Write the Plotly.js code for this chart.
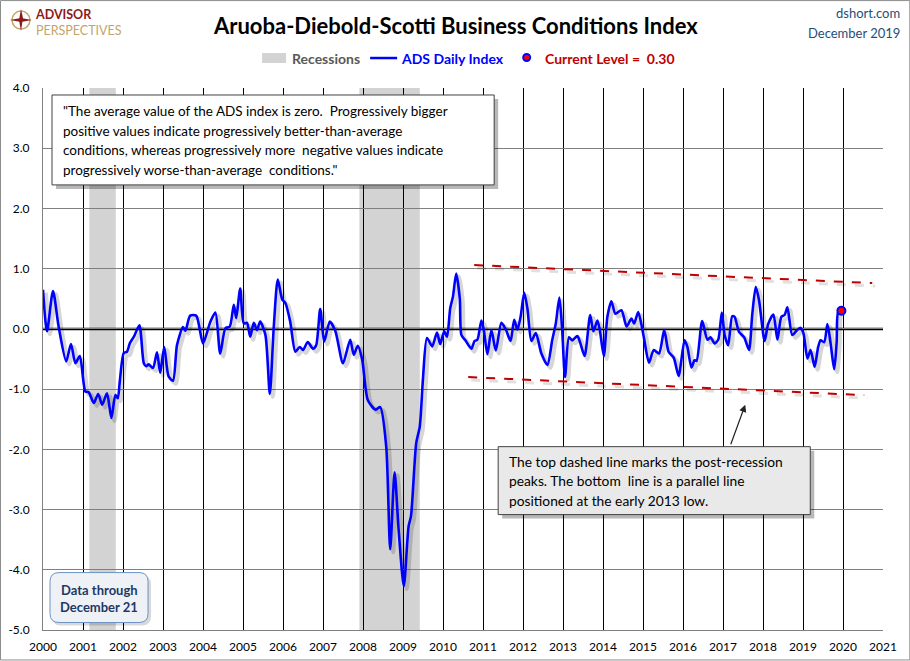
<!DOCTYPE html>
<html>
<head>
<meta charset="utf-8">
<script src="https://cdn.plot.ly/plotly-3.0.1.min.js"></script>
<style>
  html, body { margin: 0; padding: 0; background: #fff; }
  #chart { width: 910px; height: 661px; }
</style>
</head>
<body>
<div id="chart"></div>
<script>
// ADS daily index (decimal years)
const adsDates = [
  2000.0, 2000.1, 2000.25, 2000.39, 2000.58, 2000.7, 2000.81, 2000.92,
  2001.06, 2001.14, 2001.27, 2001.38, 2001.48, 2001.6, 2001.71, 2001.81, 2001.87, 2001.92,
  2002.02, 2002.1, 2002.17, 2002.28, 2002.41, 2002.52, 2002.58, 2002.64, 2002.75, 2002.85, 2002.93,
  2003.03, 2003.14, 2003.25, 2003.35, 2003.5, 2003.56, 2003.68, 2003.83,
  2004.0, 2004.18, 2004.31, 2004.43, 2004.56, 2004.67, 2004.77, 2004.83, 2004.93,
  2005.02, 2005.1, 2005.18, 2005.27, 2005.35, 2005.43, 2005.56, 2005.67, 2005.77, 2005.87, 2005.98,
  2006.06, 2006.18, 2006.31, 2006.42, 2006.5, 2006.62, 2006.75, 2006.83, 2006.93,
  2007.03, 2007.17, 2007.31, 2007.5, 2007.68, 2007.77, 2007.87, 2007.98,
  2008.12, 2008.31, 2008.43, 2008.58, 2008.68, 2008.79, 2008.89,
  2009.02, 2009.14, 2009.2, 2009.33, 2009.42, 2009.5, 2009.6, 2009.73, 2009.85, 2009.93,
  2010.03, 2010.1, 2010.18, 2010.25, 2010.33, 2010.42, 2010.46, 2010.56, 2010.71, 2010.79, 2010.86, 2010.96,
  2011.02, 2011.11, 2011.21, 2011.32, 2011.46, 2011.57, 2011.69, 2011.78, 2011.86, 2011.94,
  2012.03, 2012.11, 2012.21, 2012.32, 2012.46, 2012.61, 2012.73, 2012.82, 2012.91, 2012.98,
  2013.05, 2013.15, 2013.23, 2013.36, 2013.43, 2013.54, 2013.68, 2013.76, 2013.86, 2013.92,
  2014.02, 2014.11, 2014.21, 2014.31, 2014.46, 2014.59, 2014.71, 2014.78, 2014.88,
  2015.01, 2015.15, 2015.27, 2015.4, 2015.53, 2015.64, 2015.77, 2015.89,
  2016.04, 2016.11, 2016.21, 2016.29, 2016.34, 2016.48, 2016.61, 2016.69, 2016.79, 2016.88, 2016.97,
  2017.04, 2017.13, 2017.23, 2017.29, 2017.4, 2017.53, 2017.65, 2017.73, 2017.82, 2017.9,
  2018.04, 2018.13, 2018.26, 2018.36, 2018.46, 2018.54, 2018.61, 2018.73, 2018.84, 2018.93,
  2019.01, 2019.11, 2019.19, 2019.29, 2019.38, 2019.44, 2019.53, 2019.61, 2019.69, 2019.78, 2019.84, 2019.88, 2019.96
];
const adsValues = [
  0.65, -0.04, 0.63, 0.04, -0.54, -0.25, -0.57, -0.45,
  -1.04, -1.05, -1.23, -1.08, -1.26, -1.07, -1.48, -1.10, -1.15, -0.87,
  -0.40, -0.38, -0.24, -0.12, 0.06, -0.57, -0.62, -0.59, -0.65, -0.39, -0.73,
  -0.30, -0.79, -0.86, -0.27, 0.03, -0.03, 0.22, 0.22,
  -0.24, 0.11, 0.27, -0.41, 0.01, 0.04, 0.40, 0.18, 0.67,
  0.09, 0.10, -0.13, 0.10, -0.02, 0.12, -0.10, -1.08, 0.04, 0.82, 0.49,
  0.43, 0.12, -0.38, -0.30, -0.35, -0.22, -0.33, -0.27, 0.33,
  -0.21, 0.12, -0.04, -0.57, -0.18, -0.43, -0.28, -0.51,
  -1.18, -1.34, -1.30, -1.95, -3.66, -2.38, -3.33,
  -4.27, -3.28, -3.11, -1.90, -1.62, -0.82, -0.15, -0.29, -0.06, -0.25,
  -0.04, -0.13, 0.34, 0.54, 0.92, 0.50, -0.10, -0.19, -0.33, -0.20, -0.18, 0.14,
  -0.02, -0.42, -0.02, -0.36, 0.10, -0.01, -0.20, 0.15, -0.01, 0.20,
  0.60, 0.34, -0.20, -0.07, -0.41, -0.60, -0.19, 0.09, 0.52, -0.02,
  -0.80, -0.14, -0.19, -0.12, -0.23, -0.45, 0.23, -0.04, 0.14, -0.02,
  -0.45, 0.20, 0.46, 0.25, 0.31, 0.04, 0.17, 0.09, 0.28,
  -0.10, -0.56, -0.35, -0.41, -0.02, -0.38, -0.48, -0.78,
  -0.19, -0.30, -0.64, -0.52, -0.53, 0.13, -0.18, -0.14, -0.24, -0.18, 0.27,
  -0.10, -0.27, 0.21, 0.20, -0.05, -0.14, -0.35, 0.23, 0.70, 0.48,
  -0.20, 0.08, 0.24, -0.18, 0.20, 0.23, 0.36, -0.10, -0.03, 0.02,
  -0.07, -0.49, -0.35, -0.63, -0.30, -0.19, -0.22, 0.08, -0.24, -0.67, -0.24, 0.28, 0.30
];

// recessions (NBER), start / end in decimal years
const recStart = [2001.16, 2007.91];
const recEnd = [2001.82, 2009.42];

// trend channel lines
const topLineX = [2010.78, 2020.73];
const topLineY = [1.06, 0.76];
const lowLineX = [2010.63, 2020.53];
const lowLineY = [-0.80, -1.10];

// axis ticks
const yearTicks = [];
for (let y = 2000; y <= 2021; y++) yearTicks.push(y);
const levelTicks = [-5, -4, -3, -2, -1, 0, 1, 2, 3, 4];

// text blocks
const quoteLines = [
  '"The average value of the ADS index is zero.  Progressively bigger',
  'positive values indicate progressively better-than-average',
  'conditions, whereas progressively more  negative values indicate',
  'progressively worse-than-average  conditions."'
];
const noteLines = [
  'The top dashed line marks the post-recession',
  'peaks. The bottom  line is a parallel line',
  'positioned at the early 2013 low.'
];

const curDate = adsDates[adsDates.length - 1];
const curVal = adsValues[adsValues.length - 1];

// plot area in pixels, used to place the decorations
const L = 43, R = 882.7, T = 88, B = 630.5;
const px = x => (x - L) / (R - L);
const py = y => (B - y) / (B - T);

const FONT = 'Lato, "Open Sans", sans-serif';

// shadow copies sit on an axis pair shifted by a few pixels
const sx = 3 / 40, sy = 3 / 60.3;

const traces = [
  {
    x: adsDates, y: adsValues, xaxis: 'x2', yaxis: 'y2',
    type: 'scatter', mode: 'lines', hoverinfo: 'skip',
    line: { color: 'rgba(0,0,0,0.16)', width: 4, shape: 'spline', smoothing: 0.7 }
  },
  {
    x: topLineX, y: topLineY, xaxis: 'x2', yaxis: 'y2',
    type: 'scatter', mode: 'lines', hoverinfo: 'skip',
    line: { color: 'rgba(0,0,0,0.12)', width: 3, dash: 'dash' }
  },
  {
    x: lowLineX, y: lowLineY, xaxis: 'x2', yaxis: 'y2',
    type: 'scatter', mode: 'lines', hoverinfo: 'skip',
    line: { color: 'rgba(0,0,0,0.12)', width: 3, dash: 'dash' }
  },
  {
    x: topLineX, y: topLineY, xaxis: 'x3', yaxis: 'y3',
    type: 'scatter', mode: 'lines', name: 'top',
    line: { color: '#c00000', width: 2, dash: 'dash' }
  },
  {
    x: lowLineX, y: lowLineY, xaxis: 'x3', yaxis: 'y3',
    type: 'scatter', mode: 'lines', name: 'bottom',
    line: { color: '#c00000', width: 2, dash: 'dash' }
  },
  {
    x: adsDates, y: adsValues, xaxis: 'x3', yaxis: 'y3',
    type: 'scatter', mode: 'lines', name: 'ADS Daily Index',
    line: { color: '#0000ff', width: 2.6, shape: 'spline', smoothing: 0.7 }
  },
  {
    x: [curDate], y: [curVal], xaxis: 'x3', yaxis: 'y3',
    type: 'scatter', mode: 'markers', name: 'Current Level',
    marker: { size: 8, color: '#ff0000', line: { color: '#0000ff', width: 2 } }
  }
];

const shapes = [];
// whole-image frame
shapes.push({ type: 'rect', xref: 'paper', yref: 'paper', x0: px(0.5), x1: px(909.5), y0: py(660.5), y1: py(0.5),
  line: { color: '#8c8c8c', width: 1 }, fillcolor: 'rgba(0,0,0,0)', layer: 'below' });
// recession bands
recStart.forEach((s, i) => {
  shapes.push({ type: 'rect', xref: 'x', yref: 'paper', x0: s, x1: recEnd[i], y0: 0, y1: 1,
    fillcolor: 'rgba(165,165,165,0.49)', line: { width: 0 }, layer: 'between' });
});
// zero line
shapes.push({ type: 'line', xref: 'paper', yref: 'y', x0: 0, x1: 1, y0: 0, y1: 0,
  line: { color: '#000', width: 2.5 }, layer: 'between' });

// quote box with shadow
shapes.push({ type: 'rect', xref: 'paper', yref: 'paper', x0: px(56), x1: px(498), y0: py(189), y1: py(99),
  fillcolor: 'rgba(0,0,0,0.28)', line: { width: 0 } });
shapes.push({ type: 'rect', xref: 'paper', yref: 'paper', x0: px(52), x1: px(494), y0: py(185), y1: py(95),
  fillcolor: '#ffffff', line: { color: '#404040', width: 1 } });
// note box with shadow
shapes.push({ type: 'rect', xref: 'paper', yref: 'paper', x0: px(502), x1: px(814), y0: py(519), y1: py(451),
  fillcolor: 'rgba(0,0,0,0.28)', line: { width: 0 } });
shapes.push({ type: 'rect', xref: 'paper', yref: 'paper', x0: px(498), x1: px(810), y0: py(515), y1: py(447),
  fillcolor: '#e9e9e9', line: { color: '#404040', width: 1 } });

// rounded "Data through" box
function roundRect(x0, y0, x1, y1, r) {
  const X = v => px(v), Y = v => py(v);
  return `M ${X(x0 + r)},${Y(y0)} L ${X(x1 - r)},${Y(y0)} Q ${X(x1)},${Y(y0)} ${X(x1)},${Y(y0 + r)} ` +
    `L ${X(x1)},${Y(y1 - r)} Q ${X(x1)},${Y(y1)} ${X(x1 - r)},${Y(y1)} ` +
    `L ${X(x0 + r)},${Y(y1)} Q ${X(x0)},${Y(y1)} ${X(x0)},${Y(y1 - r)} ` +
    `L ${X(x0)},${Y(y0 + r)} Q ${X(x0)},${Y(y0)} ${X(x0 + r)},${Y(y0)} Z`;
}
shapes.push({ type: 'path', xref: 'paper', yref: 'paper', path: roundRect(52, 576, 151, 626, 9),
  fillcolor: 'rgba(0,0,0,0.15)', line: { width: 0 } });
shapes.push({ type: 'path', xref: 'paper', yref: 'paper', path: roundRect(50, 573, 148, 623, 9),
  fillcolor: '#eef1f6', line: { color: '#6f93c4', width: 1 } });

// legend symbols
shapes.push({ type: 'rect', xref: 'paper', yref: 'paper', x0: px(262), x1: px(286), y0: py(63), y1: py(53),
  fillcolor: '#d3d3d3', line: { width: 0 } });
shapes.push({ type: 'line', xref: 'paper', yref: 'paper', x0: px(370), x1: px(397), y0: py(58), y1: py(58),
  line: { color: '#0000ff', width: 2.5 } });
shapes.push({ type: 'circle', xref: 'paper', yref: 'paper', x0: px(523), x1: px(530), y0: py(61), y1: py(54),
  fillcolor: '#ff0000', line: { color: '#0000ff', width: 2 } });

// logo mark
shapes.push({ type: 'circle', xref: 'paper', yref: 'paper', x0: px(12), x1: px(30), y0: py(29), y1: py(11),
  fillcolor: 'rgba(0,0,0,0)', line: { color: '#c4a46a', width: 1.5 } });
shapes.push({ type: 'path', xref: 'paper', yref: 'paper',
  path: `M ${px(21)},${py(9)} L ${px(23)},${py(18)} L ${px(21)},${py(31)} L ${px(19)},${py(20)} Z`,
  fillcolor: '#8b1a1a', line: { width: 0 } });
shapes.push({ type: 'path', xref: 'paper', yref: 'paper',
  path: `M ${px(10)},${py(20)} L ${px(21)},${py(18)} L ${px(32)},${py(20)} L ${px(21)},${py(22)} Z`,
  fillcolor: '#8b1a1a', line: { width: 0 } });

const ann = (x, y, text, opts) => Object.assign({ xref: 'paper', yref: 'paper', x: px(x), y: py(y),
  xanchor: 'center', yanchor: 'middle',
  text: text, showarrow: false, font: { family: FONT, size: 13, color: '#000' } }, opts || {});

const annotations = [
  ann(455, 25, '<b>Aruoba-Diebold-Scotti Business Conditions Index</b>',
    { font: { family: FONT, size: 22, color: '#000' } }),
  ann(33, 22, '<b><span style="color:#8b1a1a">ADVISOR</span></b><br>' +
    '<span style="color:#c4a46a">PERSPECTIVES</span>',
    { xanchor: 'left', align: 'left', font: { family: FONT, size: 12.5, color: '#c4a46a' } }),
  ann(902, 13, 'dshort.com', { xanchor: 'right', font: { family: FONT, size: 13, color: '#1f4e79' } }),
  ann(902, 33, 'December 2019', { xanchor: 'right', font: { family: FONT, size: 13, color: '#1f4e79' } }),
  ann(290, 58, '<b>Recessions</b>', { xanchor: 'left', font: { family: FONT, size: 14, color: '#595959' } }),
  ann(399, 58, '<b>ADS Daily Index</b>', { xanchor: 'left', font: { family: FONT, size: 14, color: '#0000ff' } }),
  ann(543, 58, '<b>Current Level =  ' + curVal.toFixed(2) + '</b>',
    { xanchor: 'left', font: { family: FONT, size: 14, color: '#c00000' } }),
  ann(99, 590, '<b>Data through</b>', { font: { family: FONT, size: 13, color: '#1f3864' } }),
  ann(99, 607, '<b>December 21</b>', { font: { family: FONT, size: 13, color: '#1f3864' } }),
  // arrow from the note to the lower line
  { xref: 'paper', yref: 'paper', x: px(745), y: py(405), ax: -15, ay: 41, axref: 'pixel', ayref: 'pixel',
    text: '', showarrow: true, arrowhead: 2, arrowsize: 1.2, arrowwidth: 1.2, arrowcolor: '#222' }
];
quoteLines.forEach((t, i) => {
  annotations.push(ann(61, 111 + i * 19.6, t, { xanchor: 'left', font: { family: FONT, size: 13.5, color: '#000' } }));
});
noteLines.forEach((t, i) => {
  annotations.push(ann(507, 462 + i * 19.2, t, { xanchor: 'left', font: { family: FONT, size: 13.8, color: '#000' } }));
});

const layout = {
  width: 910, height: 661,
  margin: { l: L, r: 910 - R, t: T, b: 661 - B, pad: 0 },
  paper_bgcolor: '#ffffff', plot_bgcolor: '#ffffff',
  showlegend: false,
  font: { family: FONT, size: 12, color: '#000' },
  xaxis: {
    range: [2000, 2021], tickmode: 'array', tickvals: yearTicks, ticktext: yearTicks.map(String),
    showgrid: true, gridcolor: '#000', gridwidth: 1, zeroline: false,
    showline: true, linecolor: '#808080', linewidth: 1, ticks: '', ticklabelstandoff: 6,
    tickfont: { family: FONT, size: 12, color: '#000' }, fixedrange: true
  },
  yaxis: {
    range: [-5, 4], tickmode: 'array', tickvals: levelTicks, ticktext: levelTicks.map(v => v.toFixed(1)),
    showgrid: true, gridcolor: '#808080', gridwidth: 1, zeroline: false,
    showline: true, linecolor: '#808080', linewidth: 1, ticks: '', ticklabelstandoff: 10,
    tickfont: { family: FONT, size: 12, color: '#000' }, fixedrange: true
  },
  xaxis2: { overlaying: 'x', range: [2000 - sx, 2021 - sx], visible: false, fixedrange: true },
  yaxis2: { overlaying: 'y', range: [-5 + sy, 4 + sy], visible: false, fixedrange: true },
  xaxis3: { overlaying: 'x', range: [2000, 2021], visible: false, fixedrange: true },
  yaxis3: { overlaying: 'y', range: [-5, 4], visible: false, fixedrange: true },
  shapes: shapes,
  annotations: annotations
};

Plotly.newPlot('chart', traces, layout, { staticPlot: true, displayModeBar: false });
</script>
</body>
</html>
